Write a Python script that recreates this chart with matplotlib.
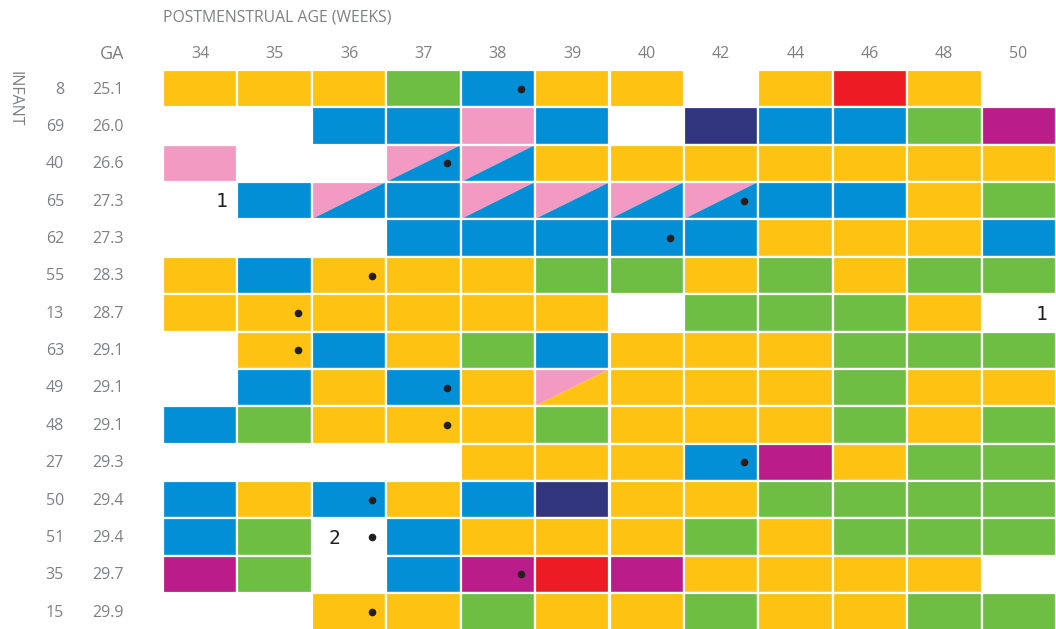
import matplotlib
matplotlib.use("Agg")
import matplotlib.pyplot as plt
from matplotlib.patches import Rectangle, Polygon

# column headers (postmenstrual age, weeks)
ages = ["34", "35", "36", "37", "38", "39", "40", "42", "44", "46", "48", "50"]
infants = ["8", "69", "40", "65", "62", "55", "13", "63", "49", "48", "27", "50", "51", "35", "15"]
ga = ["25.1", "26.0", "26.6", "27.3", "27.3", "28.3", "28.7", "29.1", "29.1", "29.1",
      "29.3", "29.4", "29.4", "29.7", "29.9"]

# cell codes: Y yellow, B blue, G green, P pink, N navy, R red, M magenta, W empty,
# PB pink over blue (split), PY pink over yellow (split)
cells = [
    ["Y", "Y", "Y", "G", "B", "Y", "Y", "W", "Y", "R", "Y", "W"],
    ["W", "W", "B", "B", "P", "B", "W", "N", "B", "B", "G", "M"],
    ["P", "W", "W", "PB", "PB", "Y", "Y", "Y", "Y", "Y", "Y", "Y"],
    ["W", "B", "PB", "B", "PB", "PB", "PB", "PB", "B", "B", "Y", "G"],
    ["W", "W", "W", "B", "B", "B", "B", "B", "Y", "Y", "Y", "B"],
    ["Y", "B", "Y", "Y", "Y", "G", "G", "Y", "G", "Y", "G", "G"],
    ["Y", "Y", "Y", "Y", "Y", "Y", "W", "G", "G", "G", "Y", "W"],
    ["W", "Y", "B", "Y", "G", "B", "Y", "Y", "Y", "G", "G", "G"],
    ["W", "B", "Y", "B", "Y", "PY", "Y", "Y", "Y", "G", "Y", "Y"],
    ["B", "G", "Y", "Y", "Y", "G", "Y", "Y", "Y", "G", "Y", "G"],
    ["W", "W", "W", "W", "Y", "Y", "Y", "B", "M", "Y", "G", "G"],
    ["B", "Y", "B", "Y", "B", "N", "Y", "Y", "G", "G", "G", "G"],
    ["B", "G", "W", "B", "Y", "Y", "Y", "G", "Y", "G", "G", "G"],
    ["M", "G", "W", "B", "M", "R", "M", "Y", "Y", "Y", "Y", "W"],
    ["W", "W", "Y", "Y", "G", "Y", "Y", "G", "Y", "Y", "G", "G"],
]

# (row, column) of cells with a dot marker
dots = [(0, 4), (2, 3), (3, 7), (4, 6), (5, 2), (6, 1), (7, 1), (8, 3), (9, 3),
        (10, 7), (11, 2), (12, 2), (13, 4), (14, 2)]

# (row, column, text) numbers written in empty cells
notes = [(3, 0, "1"), (6, 11, "1"), (12, 2, "2")]
note_x = [0.79, 0.80, 0.30]

colors = {
    "Y": "#FEC212", "B": "#028FD5", "G": "#6EBE44", "P": "#F39AC3",
    "N": "#31357D", "R": "#ED1C24", "M": "#BA1C8A", "W": "white",
}
grey = "#7F8083"

fig = plt.figure(figsize=(10.56, 6.29), dpi=100)
ax = fig.add_axes([163 / 1056, -1.5 / 629, 893 / 1056, 560.5 / 629])
nrows, ncols = len(cells), len(ages)
ax.set_xlim(0, ncols)
ax.set_ylim(nrows, 0)
ax.axis("off")

lw = 1.6
for r, row in enumerate(cells):
    for c, code in enumerate(row):
        if code == "W":
            continue
        if len(code) == 2:
            top, bottom = colors[code[0]], colors[code[1]]
            ax.add_patch(Polygon([(c, r + 1), (c, r), (c + 1, r)], closed=True,
                                 facecolor=top, edgecolor="none"))
            ax.add_patch(Polygon([(c, r + 1), (c + 1, r + 1), (c + 1, r)], closed=True,
                                 facecolor=bottom, edgecolor="none"))
            ax.add_patch(Rectangle((c, r), 1, 1, facecolor="none", edgecolor="white", lw=lw))
        else:
            ax.add_patch(Rectangle((c, r), 1, 1, facecolor=colors[code],
                                   edgecolor="white", lw=lw))

for r, c in dots:
    ax.plot(c + 0.81, r + 0.5, "o", color="#231F20", ms=5.5, mec="none")

for (r, c, t), fx in zip(notes, note_x):
    ax.text(c + fx, r + 0.53, t, ha="center", va="center", fontsize=14,
            family="DejaVu Sans Mono", color="#231F20")

font = "Open Sans"
for c, a in enumerate(ages):
    fig.text((163 + 74.4 * (c + 0.5)) / 1056, 1 - 54 / 629, a, ha="center", va="center",
             fontsize=11.5, color=grey, family=font)

for r in range(nrows):
    y = 1 - (71 + 37.35 * (r + 0.5)) / 629
    fig.text(64 / 1056, y, infants[r], ha="right", va="center", fontsize=11.5,
             color=grey, family=font)
    fig.text(124 / 1056, y, ga[r], ha="right", va="center", fontsize=11.5,
             color=grey, family=font)

fig.text(124 / 1056, 1 - 54 / 629, "GA", ha="right", va="center", fontsize=13,
         color=grey, family=font)
fig.text(14 / 1056, 1 - 71 / 629, "INFANT", ha="center", va="top", rotation=-90,
         fontsize=11.5, color=grey, family=font)
fig.text(163 / 1056, 1 - 17 / 629, "POSTMENSTRUAL AGE (WEEKS)", ha="left", va="center",
         fontsize=11.3, color=grey, family=font)

fig.savefig("out.png", dpi=100)
